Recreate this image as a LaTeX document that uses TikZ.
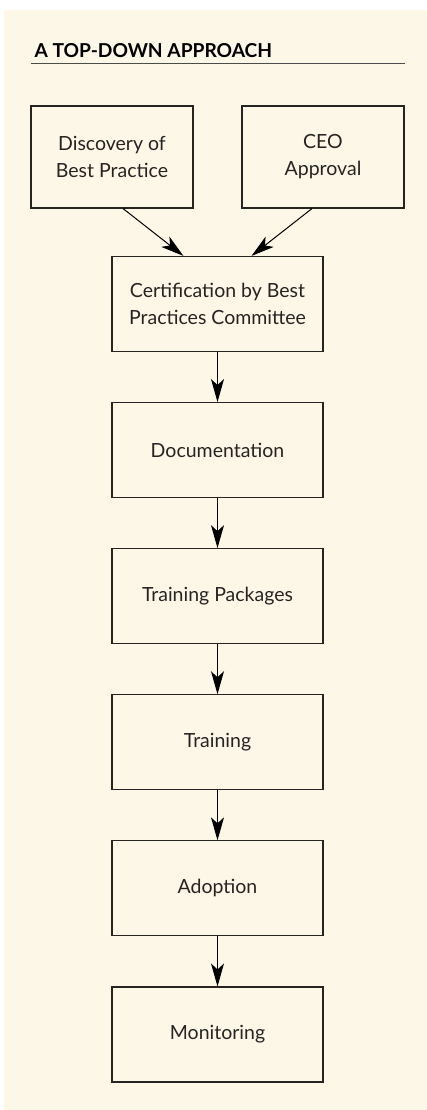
\documentclass[tikz,border=0pt]{standalone}
\usepackage{fontspec}
\setmainfont{Lato}
\usetikzlibrary{positioning,calc,arrows.meta}
\definecolor{paper}{RGB}{253,247,232}
\definecolor{ink}{RGB}{38,36,34}
\tikzset{
	>={Stealth[length=23pt,width=13pt,inset=6pt]},
	stage/.style={draw=ink, line width=1.1pt, minimum width=211pt, minimum height=95pt,
		align=center, text=ink, font=\fontsize{19.5}{27}\selectfont},
	source/.style={stage, minimum width=162pt, minimum height=102pt},
	flow/.style={black, line width=1pt, ->},
	rule/.style={black!70, line width=1.4pt},
	heading/.style={anchor=base west, text=black, font=\fontsize{19.2}{22}\selectfont\bfseries}
}

\begin{document}
\begin{tikzpicture}[x=1pt, y=-1pt, line join=miter]
	
	% ---- Page and panel ----
	\fill[white] (0,0) rectangle (427,1110);
	\fill[paper] (4,10) rectangle (427,1110);
	\useasboundingbox (0,0) rectangle (427,1110);
	
	% ---- Heading with rule ----
	\node[heading] (title) at (31,58) {A TOP-DOWN APPROACH};
	\draw[rule] (31,63.5) -- (405,63.5);
	
	% ---- Two starting points ----
	\node[source] (disc) at (112,157) {Discovery of\\Best Practice};
	\node[source] (ceo) at (323,157) {CEO\\Approval};
	
	% ---- Main chain ----
	\node[stage] (cert) at (217.5,304) {Certification by Best\\Practices Committee};
	\node[stage, below=50pt of cert] (docs) {Documentation};
	\node[stage, below=50pt of docs] (pack) {Training Packages};
	\node[stage, below=50pt of pack] (train) {Training};
	\node[stage, below=50pt of train] (adopt) {Adoption};
	\node[stage, below=50pt of adopt] (watch) {Monitoring};
	
	% ---- Arrows ----
	\draw[flow] ($(disc.south)+(11,0)$) -- ($(cert.north)+(-34,0)$);
	\draw[flow] ($(ceo.south)+(-11,0)$) -- ($(cert.north)+(34,0)$);
	\foreach \a/\b in {cert/docs, docs/pack, pack/train, train/adopt, adopt/watch}
		\draw[flow] (\a) -- (\b);
	
\end{tikzpicture}
\end{document}
